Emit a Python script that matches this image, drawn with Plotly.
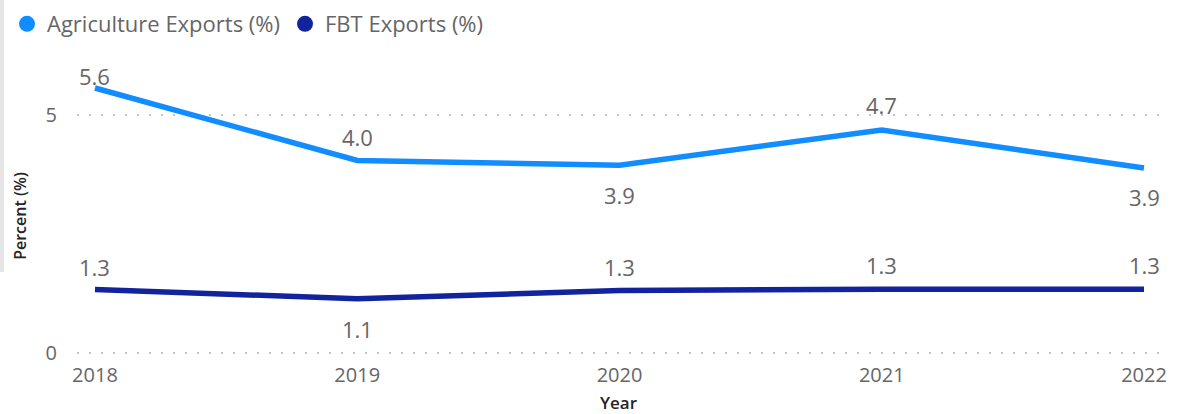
import plotly.graph_objects as go

years = ["2018", "2019", "2020", "2021", "2022"]
agri_exports = [5.56, 4.04, 3.94, 4.68, 3.88]
fbt_exports = [1.33, 1.14, 1.31, 1.34, 1.34]

# vertical offset (px) of each data label from its point
agri_label_shift = [12, 23, -30, 25, -29]
fbt_label_shift = [23, -30, 24, 24, 24]

AGRI_COLOR = "#118DFF"
FBT_COLOR = "#12239E"
TEXT_COLOR = "#666666"
TITLE_COLOR = "#252423"
FONT = "Segoe UI, Open Sans, sans-serif"

W, H = 1184, 414
M_L, M_R, M_T, M_B = 77, 24, 77, 59
plot_w = W - M_L - M_R
plot_h = H - M_T - M_B
PX_PER_UNIT = 47.66

fig = go.Figure()
annotations = []

for name, vals, color, shifts in [
    ("Agriculture Exports (%)", agri_exports, AGRI_COLOR, agri_label_shift),
    ("FBT Exports (%)", fbt_exports, FBT_COLOR, fbt_label_shift),
]:
    fig.add_trace(go.Scatter(
        x=years, y=vals, mode="lines", name=name,
        line=dict(color=color, width=5.5),
        showlegend=False, hoverinfo="x+y",
    ))
    # legend entry drawn as a plain circle
    fig.add_trace(go.Scatter(
        x=[None], y=[None], mode="markers", name=name,
        marker=dict(color=color, size=17, symbol="circle"),
        showlegend=True,
    ))
    for i, (v, s) in enumerate(zip(vals, shifts)):
        annotations.append(dict(
            x=i, y=v, xref="x", yref="y", text=f"{v:.1f}",
            showarrow=False, yshift=s, yanchor="middle", xanchor="center",
            font=dict(size=22, color=TEXT_COLOR, family=FONT),
        ))

y_low = -2 / PX_PER_UNIT
fig.update_layout(
    width=W, height=H,
    margin=dict(l=M_L, r=M_R, t=M_T, b=M_B, autoexpand=False),
    plot_bgcolor="white", paper_bgcolor="white",
    font=dict(family=FONT, color=TEXT_COLOR),
    annotations=annotations,
    legend=dict(
        orientation="h", x=-70 / plot_w, xanchor="left",
        y=(H - M_B - 24) / plot_h, yanchor="middle",
        font=dict(size=22, color=TEXT_COLOR, family=FONT),
        itemwidth=30, tracegroupgap=0, bgcolor="rgba(0,0,0,0)",
    ),
    xaxis=dict(
        type="category", range=[-0.0686, 4.061], automargin=False,
        showgrid=False, zeroline=False, showline=False,
        tickfont=dict(size=20, color=TEXT_COLOR, family=FONT),
        ticks="", ticklabelstandoff=6,
        title=dict(text="Year", font=dict(size=17, color=TITLE_COLOR, family=FONT, weight=600), standoff=16),
    ),
    yaxis=dict(
        range=[y_low, y_low + plot_h / PX_PER_UNIT], tickvals=[0, 5], automargin=False,
        showgrid=True, gridcolor="#C4C4C4", griddash="2px,10px", gridwidth=2,
        zeroline=False, showline=False,
        tickfont=dict(size=20, color=TEXT_COLOR, family=FONT),
        ticklabelstandoff=19,
        title=dict(text="Percent (%)", font=dict(size=16, color=TITLE_COLOR, family=FONT, weight=600), standoff=14),
    ),
    shapes=[dict(
        type="rect", xref="paper", yref="paper",
        x0=-M_L / plot_w, x1=(4 - M_L) / plot_w,
        y0=(H - M_B - 272) / plot_h, y1=(H - M_B) / plot_h,
        fillcolor="#E6E6E6", line=dict(width=0), layer="below",
    )],
)

fig.write_html("out.html")
